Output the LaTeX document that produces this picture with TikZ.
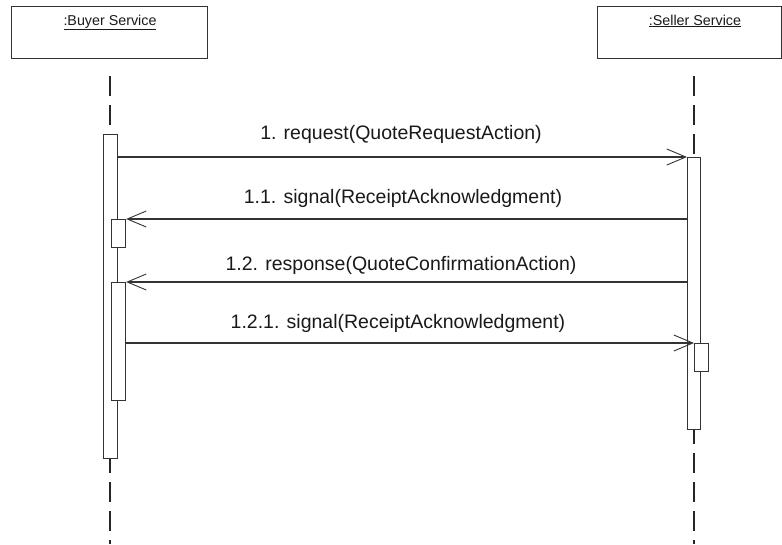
\documentclass[tikz,border=0pt]{standalone}
\usepackage{fontspec}
\setmainfont{Liberation Sans}
\usetikzlibrary{arrows.meta}
\begin{document}
\begin{tikzpicture}[x=1pt,y=-1pt,
  ln/.style={draw=black!80,line width=1.1pt},
  objbox/.style={ln,rectangle,inner sep=0pt,anchor=north west},
  act/.style={ln,fill=white,rectangle,inner sep=0pt,anchor=north west,minimum width=14pt},
  life/.style={draw=black!85,line width=1.1pt,dash pattern=on 20pt off 9pt},
  msg/.style={ln,-{Straight Barb[length=19pt,width=16pt,line width=0.9pt]}},
  lbl/.style={anchor=base,inner sep=0pt,font=\fontsize{19.5}{23}\selectfont,text=black!90},
  olbl/.style={anchor=base,inner sep=0pt,font=\fontsize{14.3}{17}\selectfont,text=black!90}
]
\useasboundingbox (0,0) rectangle (782,544);
% object boxes
\node[objbox,minimum width=196pt,minimum height=52pt] (buyer) at (11,6) {};
\node[objbox,minimum width=184pt,minimum height=52pt] (seller) at (597,6) {};
\node[olbl] (buyerlbl) at (110,25) {\underline{:Buyer Service}};
\node[olbl] (sellerlbl) at (695,25) {\underline{:Seller Service}};
% lifelines
\coordinate (bt) at (110,76);
\coordinate (bb) at (110,544);
\coordinate (st) at (694,76);
\coordinate (sb) at (694,544);
\draw[life] (bt) -- (bb);
\draw[life] (st) -- (sb);
% activations
\node[act,minimum height=324pt] (ba) at (103,134) {};
\node[act,minimum height=28pt] (b11) at (111,219) {};
\node[act,minimum height=118pt] (b12) at (111,282) {};
\node[act,minimum height=272pt,minimum width=13pt] (sa) at (687,157) {};
\node[act,minimum height=28pt] (s121) at (694,343) {};
% messages
\draw[msg] (ba.east |- sa.north west) -- (sa.north west);
\draw[msg] (sa.west |- b11.north east) -- (b11.north east);
\draw[msg] (sa.west |- b12.north east) -- (b12.north east);
\draw[msg] (b12.east |- s121.north west) -- (s121.north west);
% labels
\node[lbl] (m1) at (401,139) {1. request(QuoteRequestAction)};
\node[lbl] (m11) at (403,203) {1.1. signal(ReceiptAcknowledgment)};
\node[lbl] (m12) at (401,270) {1.2. response(QuoteConfirmationAction)};
\node[lbl] (m121) at (398,328) {1.2.1. signal(ReceiptAcknowledgment)};
\end{tikzpicture}
\end{document}
